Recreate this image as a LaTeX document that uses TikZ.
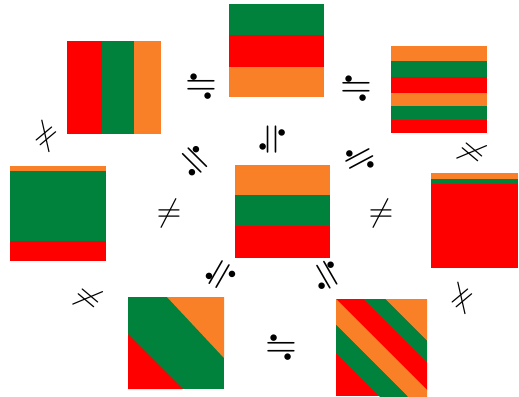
\documentclass[tikz,border=0pt]{standalone}
\definecolor{flagred}{RGB}{255,0,0}
\definecolor{flaggreen}{RGB}{0,130,61}
\definecolor{flagorange}{RGB}{250,128,40}
% Gleichheitszeichen mit zwei Punkten (fallend)
\newcommand{\dotrel}{\makebox[0.778em]{%
    \makebox[0pt]{$=$}%
    \makebox[0pt]{\raisebox{0.09em}{\scalebox{1.5}{$\cdot$}}\kern0.33em}%
    \makebox[0pt]{\kern0.33em\raisebox{-0.37em}{\scalebox{1.5}{$\cdot$}}}}}
\begin{document}
\begin{tikzpicture}[x=1pt,y=-1pt,
    rel/.style={inner sep=0pt, scale=4.1},
    ne/.style={inner sep=0pt, scale=3.2}]
    \useasboundingbox (0,0) rectangle (519,396);

    % obere Reihe
    \foreach \a/\b/\c in {67/102/flagred, 102/134/flaggreen, 134/161/flagorange}
        \fill[\c] (\a,41) rectangle (\b,134);
    \foreach \a/\b/\c in {4/35/flaggreen, 35/67/flagred, 67/97/flagorange}
        \fill[\c] (229,\a) rectangle (324,\b);
    \foreach \a/\b/\c in {46/61/flagorange, 61/77/flaggreen, 77/93/flagred,
                          93/106/flagorange, 106/120/flaggreen, 120/133/flagred}
        \fill[\c] (391,\a) rectangle (487,\b);

    % mittlere Reihe
    \foreach \a/\b/\c in {166/171/flagorange, 171/241/flaggreen, 241/261/flagred}
        \fill[\c] (10,\a) rectangle (106,\b);
    \foreach \a/\b/\c in {165/195/flagorange, 195/226/flaggreen, 226/258/flagred}
        \fill[\c] (235,\a) rectangle (330,\b);
    \foreach \a/\b/\c in {173/179/flagorange, 179/184/flaggreen, 184/268/flagred}
        \fill[\c] (431,\a) rectangle (518,\b);

    % untere Reihe, schraeg
    \fill[flaggreen] (128,297) rectangle (224,389);
    \fill[flagorange] (167,297) -- (224,297) -- (224,358) -- cycle;
    \fill[flagred] (128,334) -- (128,389) -- (183,389) -- cycle;

    \begin{scope}
        \clip (336,299) rectangle (427,396);
        \fill[flagred] (336,299) rectangle (427,396);
        \foreach \a/\b/\c in {86/200/flagorange, 64/86/flaggreen, 37/64/flagred,
                              11/37/flagorange, -17/11/flaggreen}
            \fill[\c] (250+\a,250) -- (250+\b,250) -- (450+\b,450) -- (450+\a,450) -- cycle;
    \end{scope}

    % Relationen
    \node[rel] (eqTL) at (201,88) {\dotrel};
    \node[rel] (eqTR) at (356,90) {\dotrel};
    \node[rel] (eqB) at (281,349.5) {\dotrel};
    \node[rel, rotate=90] (eqT) at (274,140) {\dotrel};
    \node[rel, rotate=-45] (eqL) at (193,162) {\dotrel};
    \node[rel, rotate=28] (eqR) at (361,161) {\dotrel};
    \node[rel, rotate=60] (eqBL) at (222,276) {\dotrel};
    \node[rel, rotate=-60] (eqBR) at (325,276.5) {\dotrel};

    \node[ne] (neL) at (169,213) {$\neq$};
    \node[ne] (neR) at (381,213) {$\neq$};
    \node[ne, rotate=40] (neTL) at (46,136) {$\neq$};
    \node[ne, rotate=-40] (neTR) at (472,152) {$\neq$};
    \node[ne, rotate=-40] (neBL) at (88,298) {$\neq$};
    \node[ne, rotate=40] (neBR) at (462,298) {$\neq$};
\end{tikzpicture}
\end{document}
